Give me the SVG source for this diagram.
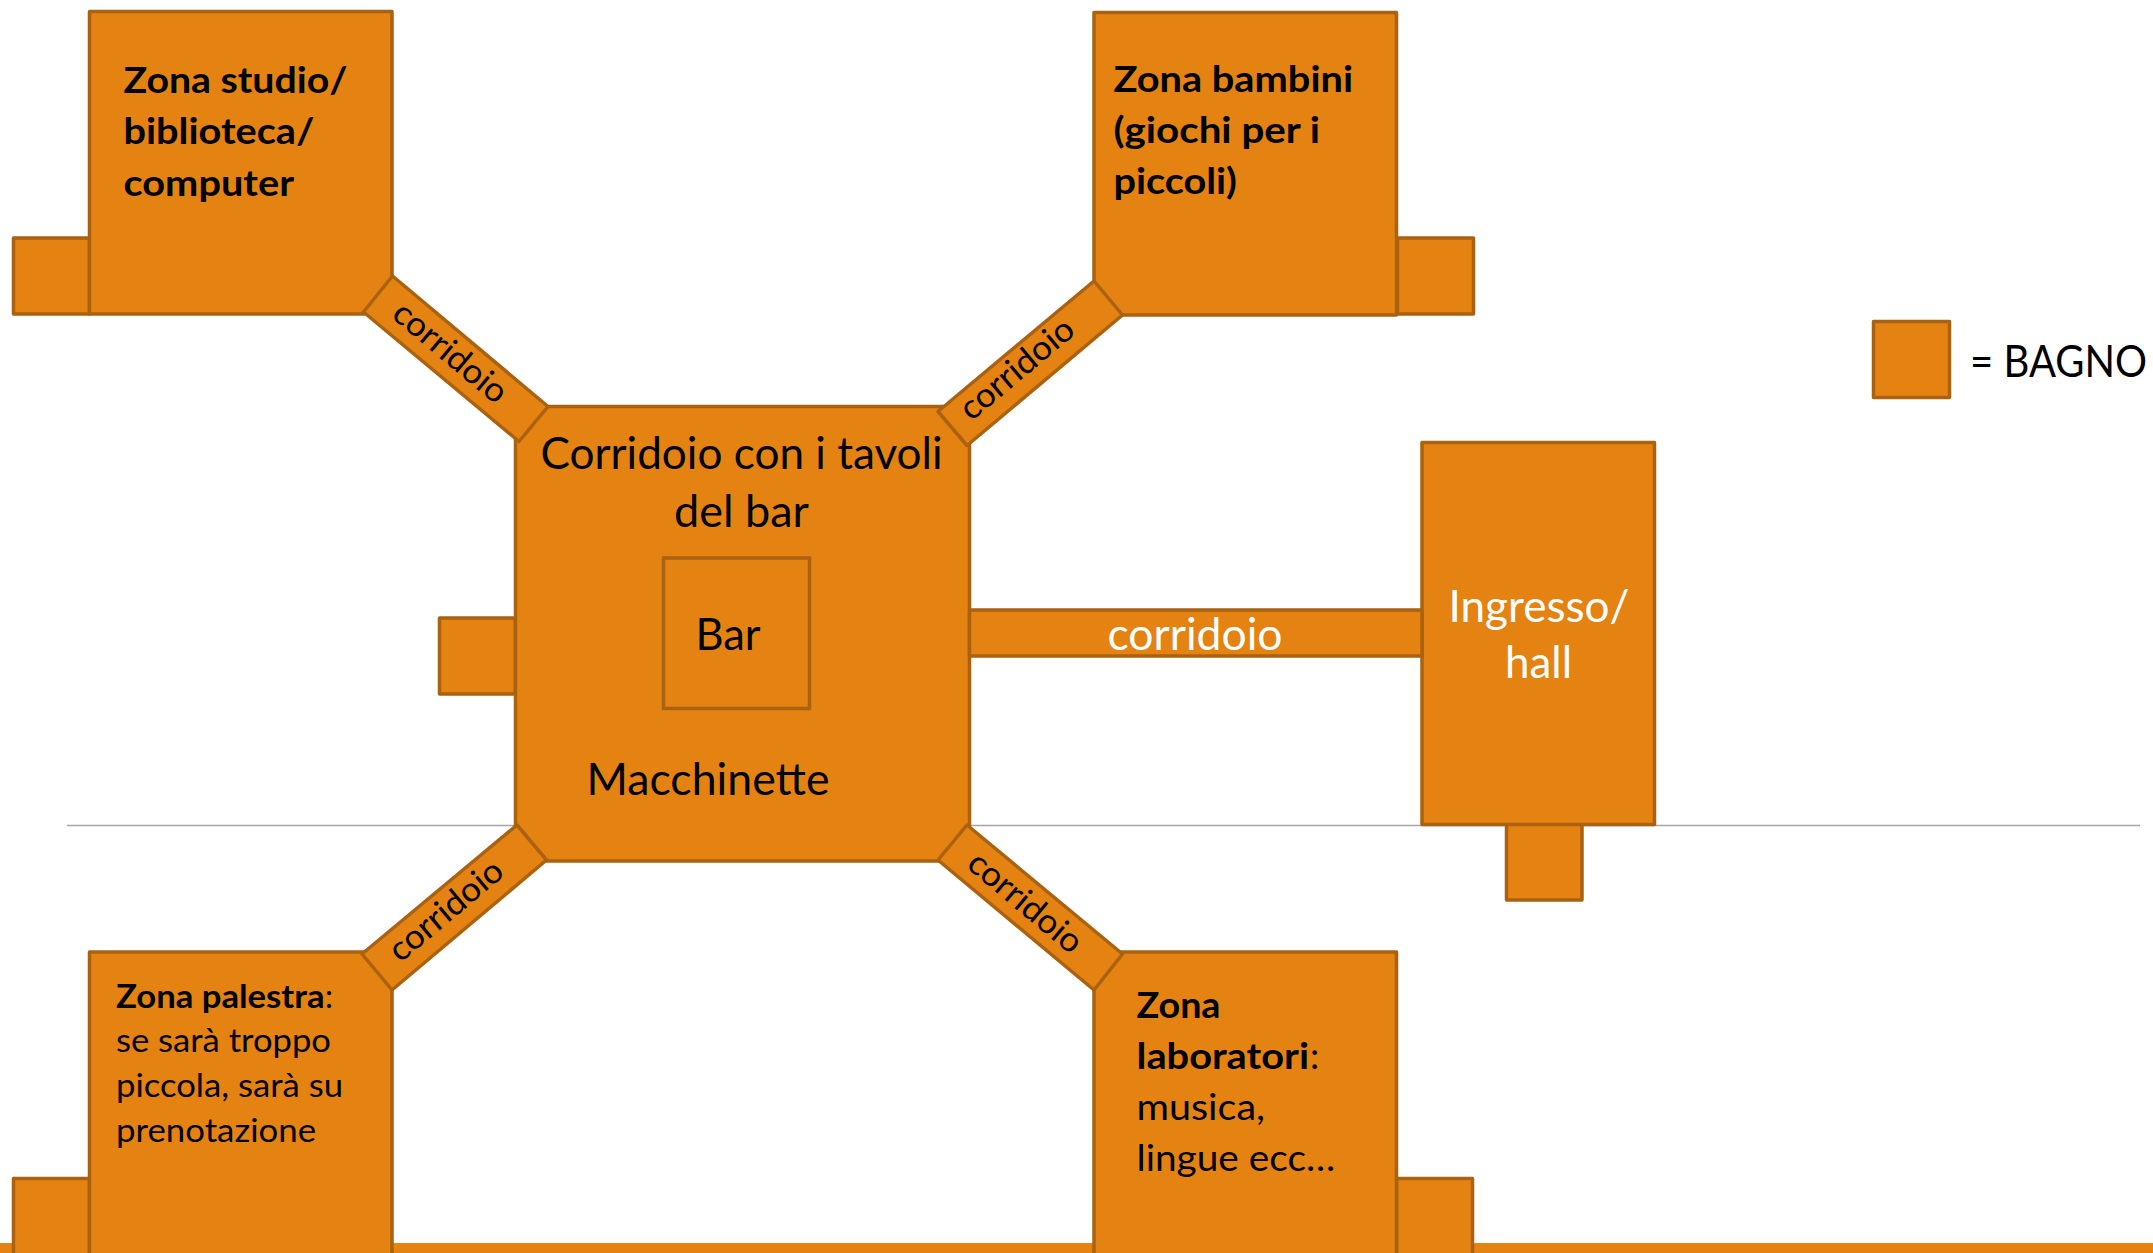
<svg xmlns="http://www.w3.org/2000/svg" width="2153" height="1253" viewBox="0 0 2153 1253">
<style>
.s{fill:#E48312;stroke:#AB6210;stroke-width:3.5;stroke-linejoin:round}
text{font-family:"Lato","Carlito","Open Sans",sans-serif;fill:#000}
.l{font-size:36.500px}
.b{font-weight:700}
.m{font-size:32px}
.c{font-size:43.500px}
.d{font-size:34px}
.w{fill:#fff}
</style>
<rect width="2153" height="1253" fill="#fff"/>
<line id="line" x1="67" y1="825.500" x2="2140" y2="825.500" stroke="#A6A6A6" stroke-width="1.500"/>
<rect id="bottom-bar" x="0" y="1243" width="2153" height="10" fill="#E48312"/>
<g id="bath-studio"><rect class="s" x="13.500" y="238" width="76" height="76"/></g>
<g id="bath-bambini"><rect class="s" x="1397.500" y="238" width="76" height="76"/></g>
<g id="bath-centre"><rect class="s" x="439.500" y="618" width="76" height="76"/></g>
<g id="bath-ingresso"><rect class="s" x="1506.500" y="824" width="75.500" height="76"/></g>
<g id="bath-palestra"><rect class="s" x="13.500" y="1178.500" width="76" height="80"/></g>
<g id="bath-laboratori"><rect class="s" x="1396.500" y="1178.500" width="76" height="80"/></g>
<g id="legend-bath"><rect class="s" x="1873.500" y="321.500" width="76" height="76"/><text style="font-size:38px" transform="translate(1970,376.500) scale(1,1.15)" textLength="177" lengthAdjust="spacingAndGlyphs">= BAGNO</text></g>
<g id="zona-studio"><rect class="s" x="89.500" y="11.500" width="302.500" height="302.500"/>
<text class="l b" x="123.500" y="93" textLength="224" lengthAdjust="spacingAndGlyphs">Zona studio/</text>
<text class="l b" x="123.500" y="144" textLength="191" lengthAdjust="spacingAndGlyphs">biblioteca/</text>
<text class="l b" x="123.500" y="195.500" textLength="170.500" lengthAdjust="spacingAndGlyphs">computer</text></g>
<g id="zona-bambini"><rect class="s" x="1094" y="12.500" width="302.500" height="302.500"/>
<text class="l b" x="1113.500" y="92" textLength="239.500" lengthAdjust="spacingAndGlyphs">Zona bambini</text>
<text class="l b" x="1113.500" y="143" textLength="206.500" lengthAdjust="spacingAndGlyphs">(giochi per i</text>
<text class="l b" x="1113.500" y="194" textLength="123.500" lengthAdjust="spacingAndGlyphs">piccoli)</text></g>
<g id="zona-palestra"><rect class="s" x="89.500" y="952" width="302.500" height="307"/>
<text class="m b" x="116" y="1007.500" textLength="208.500" lengthAdjust="spacingAndGlyphs">Zona palestra</text>
<text class="m" x="325" y="1007.500">:</text>
<text class="m" x="116" y="1052" textLength="215" lengthAdjust="spacingAndGlyphs">se sarà troppo</text>
<text class="m" x="116" y="1097" textLength="227" lengthAdjust="spacingAndGlyphs">piccola, sarà su</text>
<text class="m" x="116" y="1142" textLength="200" lengthAdjust="spacingAndGlyphs">prenotazione</text></g>
<g id="zona-laboratori"><rect class="s" x="1094" y="952" width="302.500" height="307"/>
<text class="l b" x="1136.500" y="1018" textLength="84" lengthAdjust="spacingAndGlyphs">Zona</text>
<text class="l b" x="1136.500" y="1069" textLength="172.500" lengthAdjust="spacingAndGlyphs">laboratori</text>
<text class="l" x="1310" y="1069">:</text>
<text class="l" x="1136.500" y="1120" textLength="128.500" lengthAdjust="spacingAndGlyphs">musica,</text>
<text class="l" x="1136.500" y="1171" textLength="198.500" lengthAdjust="spacingAndGlyphs">lingue ecc…</text></g>
<g id="ingresso"><rect class="s" x="1422" y="442.500" width="232.500" height="382"/>
<text class="c w" x="1448.500" y="621.500" textLength="181" lengthAdjust="spacingAndGlyphs">Ingresso/</text>
<text class="c w" x="1505" y="678" textLength="67" lengthAdjust="spacingAndGlyphs">hall</text></g>
<g id="centre"><rect class="s" x="515.500" y="406.500" width="454" height="454.500"/>
<text class="c" x="540.500" y="468.500" textLength="402" lengthAdjust="spacingAndGlyphs">Corridoio con i tavoli</text>
<text class="c" x="674" y="526.500" textLength="135" lengthAdjust="spacingAndGlyphs">del bar</text>
<g id="bar"><rect x="663.500" y="558" width="146" height="150.500" fill="none" stroke="#AB6210" stroke-width="3.500"/>
<text class="c" x="695.500" y="650" textLength="65" lengthAdjust="spacingAndGlyphs">Bar</text></g>
<text class="c" x="586.500" y="795" textLength="243" lengthAdjust="spacingAndGlyphs">Macchinette</text></g>
<g id="connectors">
<g id="corridor-tl"><polygon class="s" points="392.500,276 548,406.500 519,441.500 363.500,312"/><text class="d" transform="translate(443,361) rotate(40)" text-anchor="middle" textLength="138" lengthAdjust="spacingAndGlyphs">corridoio</text></g>
<g id="corridor-tr"><polygon class="s" points="1094,281 1122.500,315 967,445.500 938,411.500"/><text class="d" transform="translate(1024,377.500) rotate(-40)" text-anchor="middle" textLength="138" lengthAdjust="spacingAndGlyphs">corridoio</text></g>
<g id="corridor-bl"><polygon class="s" points="517,825 546.500,860 392,990 362,954"/><text class="d" transform="translate(453,919) rotate(-40)" text-anchor="middle" textLength="138" lengthAdjust="spacingAndGlyphs">corridoio</text></g>
<g id="corridor-br"><polygon class="s" points="967,825 1122.500,954 1094,990 938,860"/><text class="d" transform="translate(1018,911) rotate(40)" text-anchor="middle" textLength="138" lengthAdjust="spacingAndGlyphs">corridoio</text></g>
<g id="corridor-h"><rect class="s" x="969.500" y="610" width="452.500" height="46"/><text class="c w" x="1107.500" y="650" textLength="175" lengthAdjust="spacingAndGlyphs">corridoio</text></g>
</g>
</svg>
